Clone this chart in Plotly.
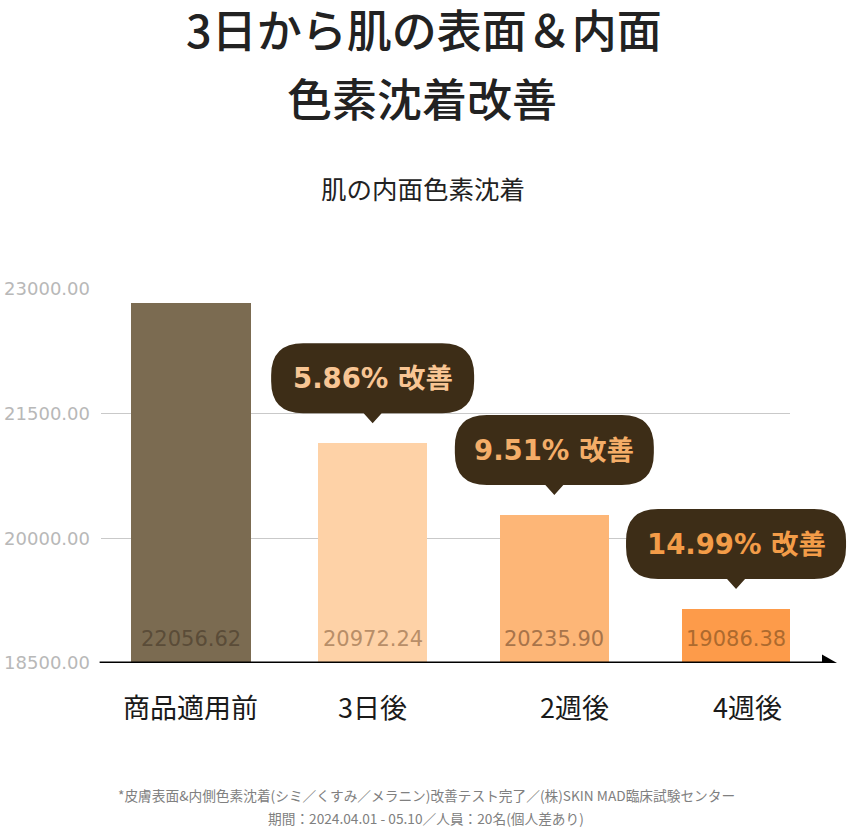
import plotly.graph_objects as go

# data
categories = ["商品適用前", "3日後", "2週後", "4週後"]
bar_values = [22830, 21145, 20280, 19150]          # bar tops
value_labels = ["22056.62", "20972.24", "20235.90", "19086.38"]
improve_labels = [None, "5.86% 改善", "9.51% 改善", "14.99% 改善"]
y_ticks = [18500, 20000, 21500, 23000]

title_lines = ["3日から肌の表面＆内面", "色素沈着改善"]
subtitle = "肌の内面色素沈着"
footnotes = ["*皮膚表面&内側色素沈着(シミ／くすみ／メラニン)改善テスト完了／(株)SKIN MAD臨床試験センター",
             "期間：2024.04.01 - 05.10／人員：20名(個人差あり)"]

# styles
bar_colors = ["#7b6b51", "#fed2a7", "#fdb677", "#fd9b4a"]
label_colors = ["#5a4c38", "#b88e68", "#a8744a", "#ad6a2e"]
bubble_text_colors = [None, "#f8c594", "#f4ad68", "#f39c48"]
bubble_widths = [None, 203, 199, 220]
bar_widths = [0.66, 0.6, 0.6, 0.6]
cat_label_shift = [0, 0, 20, 11]   # the lower labels are not quite centred in the original
bubble_fill = "#3d2d17"

W, H = 849, 829
L, R, T, B = 101, 59, 289, 166
PW, PH = W - L - R, H - T - B
X_RANGE = [-0.495, 3.297]


def px_x(px):
    return (px - L) / PW


def px_y(py):
    return (H - B - py) / PH


def cat_paper(i):
    # category index -> paper x
    return (i - X_RANGE[0]) / (X_RANGE[1] - X_RANGE[0])


def bubble_path(w, tip=20, bottom=30, top=100, r=32):
    h = w / 2
    return (f"M -9,{bottom} L 0,{tip} L 9,{bottom} L {h-r},{bottom} Q {h},{bottom} {h},{bottom+r} "
            f"L {h},{top-r} Q {h},{top} {h-r},{top} L {-h+r},{top} Q {-h},{top} {-h},{top-r} "
            f"L {-h},{bottom+r} Q {-h},{bottom} {-h+r},{bottom} Z")


fig = go.Figure()
fig.add_trace(go.Bar(
    x=categories, y=[v - y_ticks[0] for v in bar_values], width=bar_widths,
    base=y_ticks[0], marker=dict(color=bar_colors, line=dict(width=0)),
    hoverinfo="skip",
))

shapes = []
annotations = []

# value labels at the bottom of each bar, category names under the axis
for i, lab in enumerate(value_labels):
    annotations.append(dict(
        x=i, y=y_ticks[0], xref="x", yref="y", text=lab, showarrow=False,
        xanchor="center", yanchor="middle", yshift=24,
        font=dict(family="DejaVu Sans", size=21, color=label_colors[i]),
    ))
    annotations.append(dict(
        x=cat_paper(i), y=y_ticks[0], xref="paper", yref="y", text=categories[i],
        showarrow=False, xanchor="center", yanchor="middle", yshift=-43,
        xshift=cat_label_shift[i],
        font=dict(family="Noto Sans CJK JP", size=27, color="#1a1a1a"),
    ))

# improvement bubbles (paper x so they are not clipped at the plot edge)
for i, lab in enumerate(improve_labels):
    if lab is None:
        continue
    shapes.append(dict(
        type="path", xref="paper", yref="y", xsizemode="pixel", ysizemode="pixel",
        xanchor=cat_paper(i), yanchor=bar_values[i], path=bubble_path(bubble_widths[i]),
        fillcolor=bubble_fill, line=dict(width=0), layer="above",
    ))
    annotations.append(dict(
        x=cat_paper(i), y=bar_values[i], xref="paper", yref="y", text=f"<b>{lab}</b>",
        showarrow=False, xanchor="center", yanchor="middle", yshift=65,
        font=dict(family="DejaVu Sans, Noto Sans CJK JP", size=27.5, color=bubble_text_colors[i]),
    ))

# x axis line with arrow
x_end = px_x(822)
shapes.append(dict(type="line", xref="paper", yref="y", x0=-0.002, x1=x_end,
                   y0=y_ticks[0], y1=y_ticks[0], line=dict(color="black", width=3), layer="above"))
shapes.append(dict(type="path", xref="paper", yref="y", xsizemode="pixel", ysizemode="pixel",
                   xanchor=x_end, yanchor=y_ticks[0], path="M 0,8.5 L 15,0 L 0,-8.5 Z",
                   fillcolor="black", line=dict(width=0), layer="above"))

# titles
title_font = dict(family="Noto Sans CJK JP", size=45, color="#222222", weight=500)
annotations.append(dict(x=px_x(424), y=px_y(28), xref="paper", yref="paper", text=title_lines[0],
                        showarrow=False, xanchor="center", yanchor="middle", font=title_font,
                        height=52, borderpad=0, valign="middle"))
annotations.append(dict(x=px_x(422), y=px_y(98), xref="paper", yref="paper", text=title_lines[1],
                        showarrow=False, xanchor="center", yanchor="middle", font=title_font))
annotations.append(dict(x=px_x(423), y=px_y(187), xref="paper", yref="paper", text=subtitle,
                        showarrow=False, xanchor="center", yanchor="middle",
                        font=dict(family="Noto Sans CJK JP", size=25.5, color="#222222")))
for line, py in zip(footnotes, [795, 818]):
    annotations.append(dict(x=px_x(426), y=px_y(py), xref="paper", yref="paper", text=line,
                            showarrow=False, xanchor="center", yanchor="middle",
                            font=dict(family="Noto Sans CJK JP", size=13.7, color="#808080")))

fig.update_layout(
    width=W, height=H,
    margin=dict(l=L, r=R, t=T, b=B),
    paper_bgcolor="white", plot_bgcolor="white",
    showlegend=False, bargap=0,
    xaxis=dict(type="category", range=X_RANGE, showgrid=False, showline=False,
               zeroline=False, ticks="", showticklabels=False, automargin=False),
    yaxis=dict(range=[y_ticks[0], y_ticks[-1]], tickvals=y_ticks, tickformat=".2f",
               showgrid=True, gridcolor="#c9c9c9", gridwidth=1, zeroline=False, showline=False,
               ticks="", ticklabelstandoff=10, automargin=False,
               tickfont=dict(family="DejaVu Sans", size=18, color="#b8b8b8")),
    shapes=shapes,
    annotations=annotations,
)

# drop the default page margin so the figure sits at the window's corner
fig.write_html("out.html", config={"displayModeBar": False},
               post_script="document.body.style.margin='0';")
